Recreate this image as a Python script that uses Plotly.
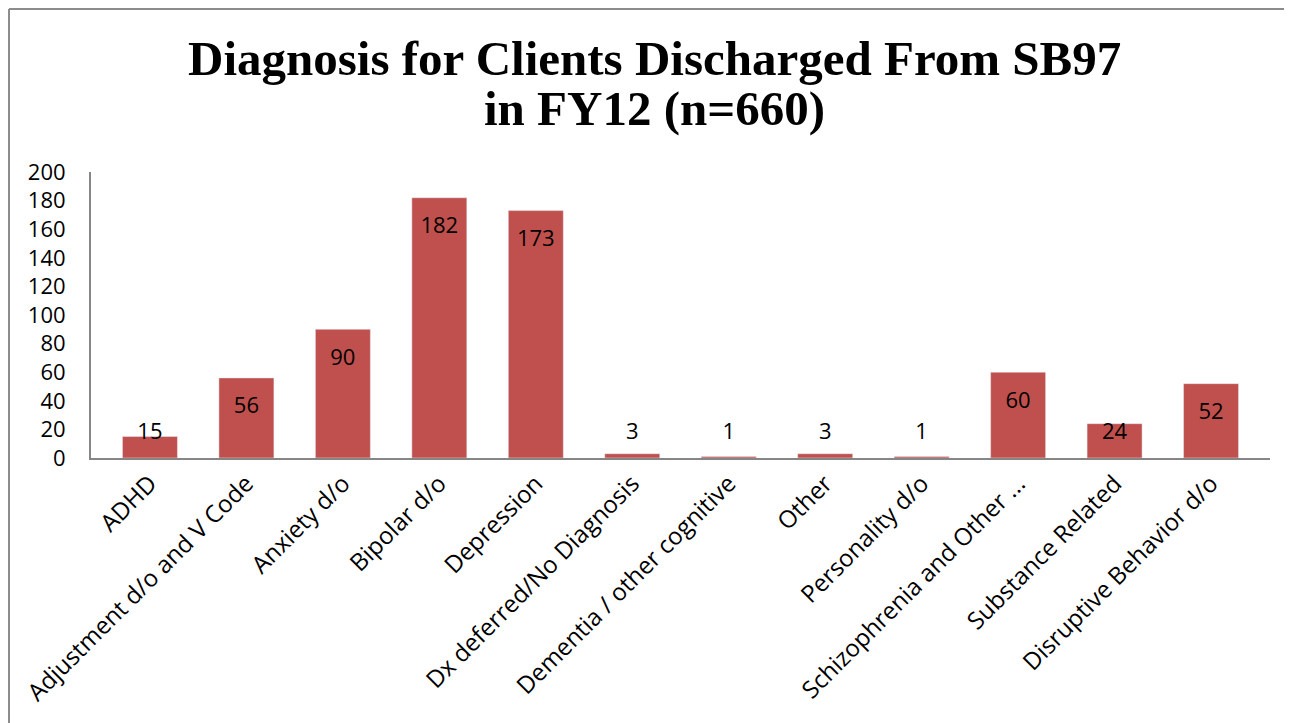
import plotly.graph_objects as go

categories = ["ADHD", "Adjustment d/o and V Code", "Anxiety d/o", "Bipolar d/o",
              "Depression", "Dx deferred/No Diagnosis", "Dementia / other cognitive",
              "Other", "Personality d/o", "Schizophrenia and Other ...",
              "Substance Related", "Disruptive Behavior d/o"]
values = [15, 56, 90, 182, 173, 3, 1, 3, 1, 60, 24, 52]
y_ticks = list(range(0, 201, 20))
title_lines = ["Diagnosis for Clients Discharged From SB97", "in FY12 (n=660)"]

label_y = [max(v - 21, 17) for v in values]

fig = go.Figure()
fig.add_trace(go.Bar(x=categories, y=values, marker=dict(color="#C0504D"),
                     hoverinfo="x+y"))
fig.add_trace(go.Scatter(x=categories, y=label_y, mode="text",
                         text=[str(v) for v in values],
                         textfont=dict(family="Open Sans", size=22, color="#000000"),
                         hoverinfo="skip"))

# page is offset by the 8px body margin; work in page pixels
OFF = 8
W, H = 1292 - OFF, 723 - OFF
ml, mr, mt, mb = 91 - OFF, 22, 172 - OFF, 723 - 458
pw, ph = W - ml - mr, H - mt - mb

def px_x(x):
    return (x - OFF - ml) / pw

def px_y(y):
    return (H + OFF - mb - y) / ph

fig.update_layout(
    width=W, height=H,
    margin=dict(l=ml, r=mr, t=mt, b=mb, pad=0, autoexpand=False),
    paper_bgcolor="white", plot_bgcolor="white",
    showlegend=False, bargap=0.43,
    font=dict(family="Open Sans", size=22, color="#000000"),
    xaxis=dict(tickangle=-45, showline=True, linecolor="#868686", linewidth=2,
               ticks="", showgrid=False, tickfont=dict(size=24), automargin=False),
    yaxis=dict(range=[0, 200], tickvals=y_ticks, showline=True, linecolor="#868686",
               linewidth=2, ticks="", showgrid=False, zeroline=False,
               tickfont=dict(size=22), ticklabelstandoff=19, automargin=False),
    annotations=[
        dict(text="<b>%s</b>" % title_lines[0], xref="paper", yref="paper",
             x=px_x(654), y=px_y(58), xanchor="center", yanchor="middle",
             showarrow=False, font=dict(family="Liberation Serif", size=49, color="#000")),
        dict(text="<b>%s</b>" % title_lines[1], xref="paper", yref="paper",
             x=px_x(654), y=px_y(108), xanchor="center", yanchor="middle",
             showarrow=False, font=dict(family="Liberation Serif", size=49, color="#000")),
    ],
    shapes=[
        dict(type="line", xref="paper", yref="paper", x0=px_x(9), x1=px_x(9),
             y0=px_y(9), y1=px_y(730), line=dict(color="#8c8c8c", width=2)),
        dict(type="line", xref="paper", yref="paper", x0=px_x(9), x1=px_x(1300),
             y0=px_y(9), y1=px_y(9), line=dict(color="#8c8c8c", width=2)),
    ],
)

fig.write_html("out.html")
